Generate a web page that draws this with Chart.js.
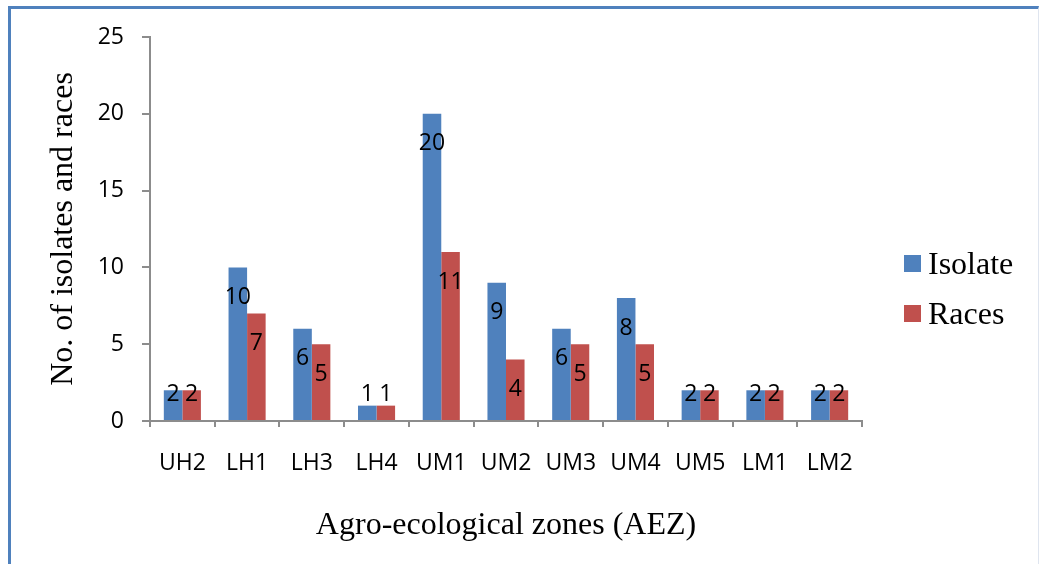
<!DOCTYPE html>
<html>
<head>
<meta charset="utf-8">
<script src="https://cdn.jsdelivr.net/npm/chart.js@4.4.1/dist/chart.umd.min.js"></script>
<style>
  html,body{margin:0;padding:0;background:#fff;}
  #wrap{position:relative;width:1039px;height:564px;overflow:hidden;background:#fff;}
  #frame{position:absolute;left:8px;top:6px;width:1027px;height:620px;border-top:3px solid #4f81bd;border-left:3px solid #4f81bd;border-right:1px solid #dfe5ef;}
  #chart{position:absolute;left:0;top:0;}
  .lg{position:absolute;left:904px;font-family:"Liberation Serif","Times New Roman",serif;font-size:32px;color:#000;line-height:32px;}
  .lg span{display:inline-block;width:17px;height:17px;margin-right:7px;vertical-align:middle;position:relative;top:-3px;}
</style>
</head>
<body>
<div id="wrap">
  <div id="frame"></div>
  <canvas id="chart" width="1039" height="564"></canvas>
  <div class="lg" id="lgIsolate" style="top:247px"><span style="background:#4f81bd"></span>Isolate</div>
  <div class="lg" id="lgRaces" style="top:297px"><span style="background:#c0504d"></span>Races</div>
</div>
<script>
const zones = ['UH2','LH1','LH3','LH4','UM1','UM2','UM3','UM4','UM5','LM1','LM2'];
const isolates = [2,10,6,1,20,9,6,8,2,2,2];
const races = [2,7,5,1,11,4,5,5,2,2,2];
const yTicks = [0,5,10,15,20,25];

const tickFont = {family:'"Open Sans", sans-serif', size:23};
const titleFont = {family:'"Liberation Serif", "Times New Roman", serif', size:32};
const axisGray = '#8c8c8c';

// value labels near the top inside each bar
const barLabels = {
  id:'barLabels',
  afterDatasetsDraw(chart){
    const ctx = chart.ctx;
    ctx.save();
    ctx.font = '23px "Open Sans", sans-serif';
    ctx.fillStyle = '#000';
    ctx.textAlign = 'center';
    ctx.textBaseline = 'middle';
    chart.data.datasets.forEach((ds,i)=>{
      chart.getDatasetMeta(i).data.forEach((bar,j)=>{
        const y = Math.min(bar.y + 30, bar.base - 26);
        ctx.fillText(String(ds.data[j]), bar.x, y);
      });
    });
    ctx.restore();
  }
};

new Chart(document.getElementById('chart'),{
  type:'bar',
  data:{
    labels:zones,
    datasets:[
      {label:'Isolate',data:isolates,backgroundColor:'#4f81bd',borderWidth:0,categoryPercentage:0.573,barPercentage:1},
      {label:'Races',data:races,backgroundColor:'#c0504d',borderWidth:0,categoryPercentage:0.573,barPercentage:1}
    ]
  },
  options:{
    responsive:false,
    animation:false,
    layout:{padding:{left:0,right:177,top:37,bottom:0}},
    plugins:{legend:{display:false},tooltip:{enabled:false}},
    scales:{
      x:{
        grid:{display:true,drawOnChartArea:false,drawTicks:true,tickLength:6,color:axisGray,lineWidth:2},
        border:{display:true,color:axisGray,width:2},
        ticks:{color:'#000',font:tickFont,padding:23,maxRotation:0},
        title:{display:true,text:'Agro-ecological zones (AEZ)',color:'#000',font:titleFont,padding:{top:0,bottom:19}},
        afterFit(s){ s.height = 143; }
      },
      y:{
        min:0,max:25,
        afterBuildTicks(s){ s.ticks = yTicks.map(v=>({value:v})); },
        grid:{display:true,drawOnChartArea:false,drawTicks:true,tickLength:8,color:axisGray,lineWidth:2},
        border:{display:true,color:axisGray,width:2},
        ticks:{color:'#000',font:tickFont,padding:18},
        title:{display:true,text:'No. of isolates and races',color:'#000',font:titleFont,padding:{top:44,bottom:0}},
        afterFit(s){ s.width = 150; }
      }
    }
  },
  plugins:[barLabels]
});
</script>
</body>
</html>
